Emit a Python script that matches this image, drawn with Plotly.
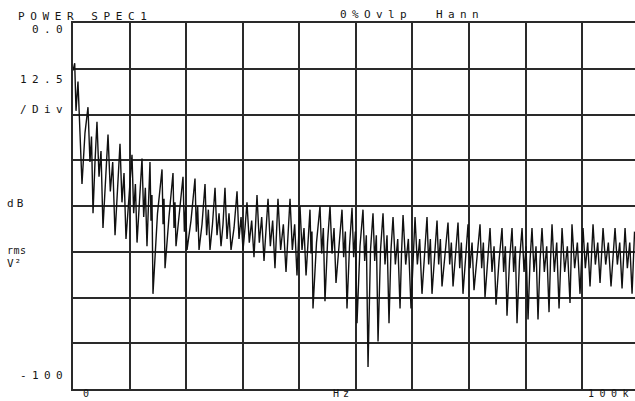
import plotly.graph_objects as go

# Frequency (kHz) and level (dB rms V^2)
freq_khz = [
    0.00, 0.30, 0.53, 0.88, 1.59, 2.12,
    2.65, 3.00, 3.27, 3.54, 3.89,
    4.24, 4.60, 4.95, 5.30, 5.75,
    6.19, 6.60, 7.02, 7.43, 7.87,
    8.31, 8.66, 9.02, 9.37, 9.90,
    10.43, 10.73, 11.03, 11.32, 11.76,
    12.20, 12.50, 12.79, 13.08, 13.35,
    13.61, 13.79, 13.96, 14.14, 14.94,
    15.74, 15.92, 16.09, 16.27, 16.97,
    17.68, 17.86, 18.03, 18.21, 18.83,
    19.45, 19.69, 19.92, 20.16, 20.86,
    21.57, 21.81, 22.04, 22.28, 22.81,
    23.34, 23.63, 23.93, 24.22, 24.66,
    25.11, 25.46, 25.82, 26.17, 26.52,
    26.87, 27.23, 27.58, 27.94, 28.47,
    29.00, 29.35, 29.71, 30.06, 30.41,
    30.76, 31.17, 31.59, 32.00, 32.27,
    32.53, 32.94, 33.36, 33.77, 34.12,
    34.48, 34.89, 35.30, 35.71, 35.98,
    36.24, 36.71, 37.19, 37.66, 38.01,
    38.37, 38.78, 39.19, 39.60, 39.87,
    40.13, 40.49, 40.84, 41.20, 41.55,
    41.90, 42.08, 42.25, 42.43, 43.05,
    43.67, 43.96, 44.26, 44.55, 45.00,
    45.44, 45.79, 46.15, 46.50, 47.03,
    47.56, 47.85, 48.15, 48.44, 48.89,
    49.33, 49.62, 49.92, 50.21, 50.74,
    51.27, 51.57, 51.86, 52.16, 52.60,
    53.04, 53.34, 53.63, 53.93, 54.37,
    54.81, 55.16, 55.52, 55.87, 56.22,
    56.58, 56.99, 57.41, 57.82, 58.08,
    58.35, 58.82, 59.29, 59.76, 60.11,
    60.47, 60.88, 61.29, 61.70, 62.15,
    62.59, 62.88, 63.18, 63.47, 63.91,
    64.36, 64.65, 64.95, 65.24, 65.77,
    66.30, 66.60, 66.89, 67.19, 67.63,
    68.07, 68.37, 68.66, 68.95, 69.39,
    69.84, 70.19, 70.55, 70.90, 71.43,
    71.96, 72.25, 72.55, 72.84, 73.29,
    73.73, 74.08, 74.44, 74.79, 75.32,
    75.85, 76.14, 76.44, 76.73, 77.18,
    77.62, 77.91, 78.21, 78.50, 78.94,
    79.39, 79.74, 80.10, 80.45, 80.80,
    81.15, 81.50, 81.86, 82.21, 82.57,
    82.92, 83.33, 83.75, 84.16, 84.42,
    84.69, 85.10, 85.52, 85.93, 86.19,
    86.46, 86.93, 87.40, 87.87, 88.05,
    88.22, 88.69, 89.17, 89.64, 89.90,
    90.17, 90.58, 91.00, 91.41, 91.67,
    91.94, 92.35, 92.77, 93.18, 93.44,
    93.71, 94.18, 94.65, 95.12, 95.47,
    95.83, 96.24, 96.66, 97.07, 97.33,
    97.60, 98.01, 98.43, 98.84, 99.02,
    99.28,
]

level_db = [
    -13, -11, -24, -16, -44, -30,
    -23, -38, -31, -52, -38,
    -27, -42, -35, -56, -42,
    -30.5, -46, -38, -58, -44,
    -33, -49, -41, -59, -46,
    -36, -52, -44, -60, -48,
    -37, -53, -45, -61, -50,
    -38, -54, -47, -74, -52,
    -40, -55, -48, -67, -53,
    -41, -56, -49, -61, -52,
    -42, -57, -50, -62, -54,
    -42.5, -57, -50, -62, -55,
    -44, -58, -51, -62, -55,
    -45, -58, -52, -61, -55,
    -45, -59, -52, -62, -56,
    -46, -59, -53, -62, -56,
    -49, -60, -54, -64, -57,
    -47, -60, -53, -65, -57,
    -48, -61, -54, -67, -58,
    -48, -62, -55, -68, -59,
    -48, -62, -55, -69, -59,
    -50, -62, -56, -69, -60,
    -51, -63, -57, -78, -60,
    -50, -63, -56, -76, -60,
    -50, -63, -56, -71, -60,
    -51, -64, -57, -78, -61,
    -50.5, -64, -57, -82, -61,
    -51, -65, -58, -94, -62,
    -52, -65, -58, -87, -62,
    -52, -66, -58, -82, -62,
    -53, -66, -59, -78, -63,
    -52.5, -66, -59, -78, -63,
    -53, -66, -59, -74, -63,
    -53, -66, -59, -74, -63,
    -54, -66, -59, -72, -63,
    -54.5, -66, -60, -72, -64,
    -54.5, -67, -60, -74, -64,
    -55, -67, -60, -73, -64,
    -55, -67, -60, -75, -64,
    -56, -68, -61, -77, -65,
    -56, -68, -61, -80, -65,
    -56, -68, -61, -82, -65,
    -56, -68, -61, -81, -65,
    -56, -68, -61, -81, -65,
    -56, -68, -61, -79, -65,
    -55, -68, -60, -78, -65,
    -56, -68, -61, -76.5, -65,
    -55, -67, -60, -74, -65,
    -56, -67, -60, -72, -65,
    -55, -66, -60, -71, -64,
    -56, -66, -60, -72, -64,
    -56, -66, -60, -72.5, -64,
    -56, -67, -60, -74, -65,
    -57,
]

# Axis settings
y_top, y_bottom, y_step = 0.0, -100.0, 12.5
x_start, x_step = 0.0, 10.0

W, H = 635, 401
ML, MR, MT, MB = 73, 0, 23, 12
plot_w = W - ML - MR
plot_h = H - MT - MB
x_end = 99.36

INK = "#2a2a2a"
FONT = "DejaVu Sans Mono"

fig = go.Figure()
fig.add_trace(go.Scatter(
    x=freq_khz, y=level_db, mode="lines",
    line=dict(color="#111111", width=1.4),
    hoverinfo="skip", showlegend=False,
))

fig.update_xaxes(
    range=[x_start, x_end], dtick=x_step, tick0=x_start,
    showgrid=True, gridcolor=INK, gridwidth=2,
    showline=True, linecolor=INK, linewidth=2, mirror=True,
    showticklabels=False, ticks="", zeroline=False,
)
fig.update_yaxes(
    range=[y_bottom, y_top], dtick=y_step, tick0=y_bottom,
    showgrid=True, gridcolor=INK, gridwidth=2,
    showline=True, linecolor=INK, linewidth=2, mirror=False,
    showticklabels=False, ticks="", zeroline=False,
)


def px_x(x):
    return (x - ML) / plot_w


def px_y(y):
    return (H - MB - y) / plot_h


labels = [
    # text, left px, center-y px, font size
    ("POWER SPEC1", 17, 17, 11),
    ("0%Ovlp", 339, 14, 11),
    ("Hann", 435, 14, 11),
    ("0.0", 31, 29.5, 11),
    ("12.5", 19, 79.5, 11),
    ("/Div", 19, 109.5, 11),
    ("dB", 6, 203, 11),
    ("rms", 6, 250, 10),
    ("V²", 6, 263.5, 11),
    ("-100", 19, 375.5, 11),
    ("0", 82, 394, 10),
    ("Hz", 332, 394, 10),
    ("100k", 587, 394, 10),
]
spacing = [5.6, 5.4, 5.4, 5.4, 5.4, 5.4, 3.2, 0.5, 1.0, 5.4, 0, 4.0, 5.5]

for text, lx, cy, fs in labels:
    fig.add_annotation(
        text=text, xref="paper", yref="paper",
        x=px_x(lx), y=px_y(cy), xanchor="left", yanchor="middle",
        align="left", showarrow=False, borderpad=0,
        font=dict(family=FONT, size=fs, color="#151515"),
    )

fig.update_layout(
    width=W, height=H,
    margin=dict(l=ML, r=MR, t=MT, b=MB, pad=0),
    paper_bgcolor="white", plot_bgcolor="white",
    showlegend=False,
)

post = """
document.body.style.margin = '0';
document.body.style.padding = '0';
var sp = %s;
document.querySelectorAll('g.annotation').forEach(function(g){
  var i = parseInt(g.getAttribute('data-index'));
  var t = g.querySelector('text.annotation-text');
  if (t && !isNaN(i) && sp[i] !== undefined) { t.style.letterSpacing = sp[i] + 'px'; }
});
""" % (str(spacing))

fig.write_html("out.html", post_script=post, config={"staticPlot": True})
